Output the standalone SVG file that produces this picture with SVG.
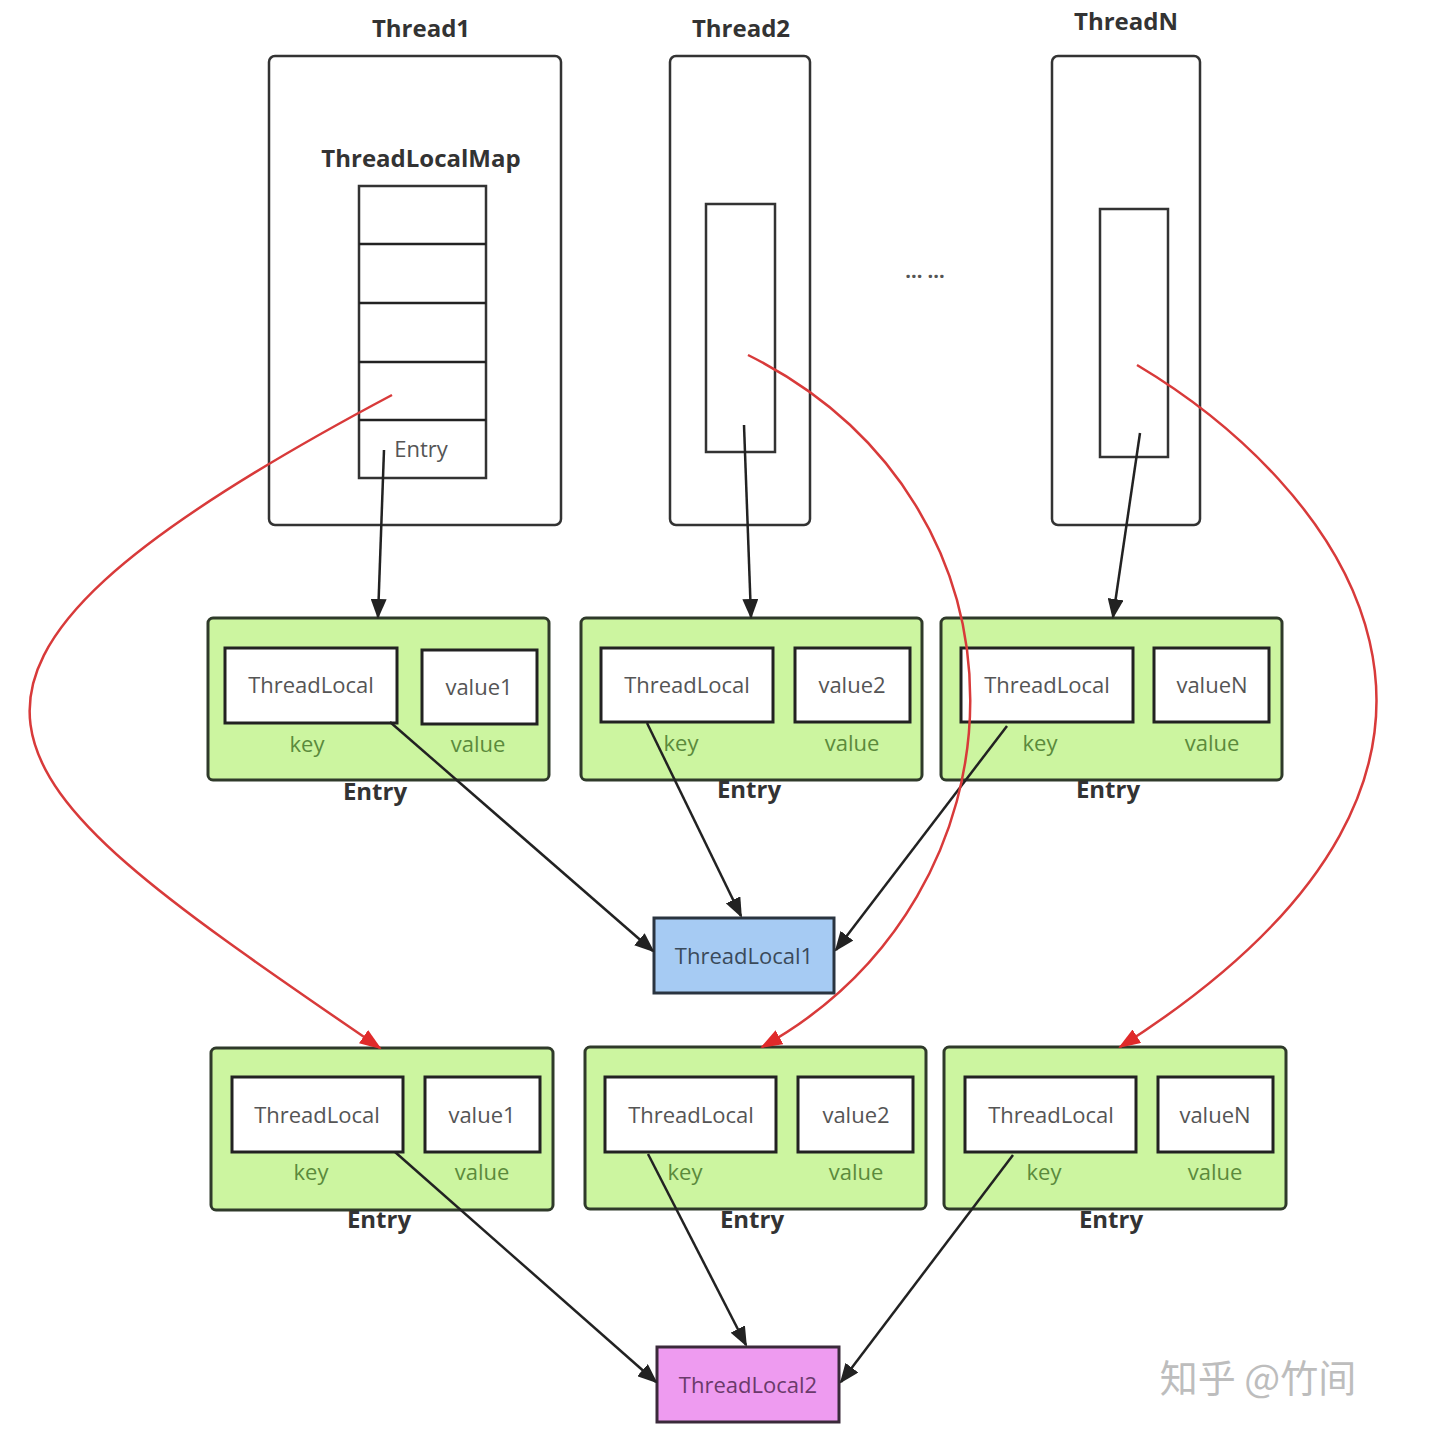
<svg xmlns="http://www.w3.org/2000/svg" width="1456" height="1438" viewBox="0 0 1456 1438">
<style>
text{font-family:"Open Sans","Noto Sans","DejaVu Sans",sans-serif}
.title{font-size:24px;font-weight:bold;fill:#333;text-anchor:middle}
.box{fill:#fff;stroke:#333;stroke-width:2.5}
.entry{fill:#ccf5a0;stroke:#2f3a2a;stroke-width:3}
.inner{fill:#fff;stroke:#222;stroke-width:3}
.t{font-size:22px;fill:#555;text-anchor:middle}
.kv{font-size:22px;fill:#5b8a3c;text-anchor:middle}
.el{font-size:24px;font-weight:bold;fill:#333;text-anchor:middle}
.blk{fill:none;stroke:#222;stroke-width:2.5}
.red{fill:none;stroke:#d83a3a;stroke-width:2.5}
</style>
<defs>
<marker id="ab" markerWidth="20" markerHeight="16" refX="18" refY="8" orient="auto" markerUnits="userSpaceOnUse"><path d="M0,0 L20,8 L0,16 Z" fill="#222"/></marker>
<marker id="ar" markerWidth="22" markerHeight="16" refX="20" refY="8" orient="auto" markerUnits="userSpaceOnUse"><path d="M0,0 L22,8 L0,16 Z" fill="#e02a2a"/></marker>
</defs>
<rect width="1456" height="1438" fill="#fff"/>
<g id="thread1">
<text class="title" x="421" y="37">Thread1</text>
<rect class="box" x="269" y="56" width="292" height="469" rx="6"/>
<text class="title" x="421" y="167">ThreadLocalMap</text>
<rect class="box" x="359" y="186" width="127" height="292"/>
<line class="blk" x1="359" y1="244" x2="486" y2="244"/>
<line class="blk" x1="359" y1="303" x2="486" y2="303"/>
<line class="blk" x1="359" y1="362" x2="486" y2="362"/>
<line class="blk" x1="359" y1="420" x2="486" y2="420"/>
<text class="t" x="421" y="457">Entry</text>
</g>
<g id="thread2">
<text class="title" x="741" y="37">Thread2</text>
<rect class="box" x="670" y="56" width="140" height="469" rx="6"/>
<rect class="box" x="706" y="204" width="69" height="248"/>
</g>
<g id="threadN">
<text class="title" x="1126" y="30">ThreadN</text>
<rect class="box" x="1052" y="56" width="148" height="469" rx="6"/>
<rect class="box" x="1100" y="209" width="68" height="248"/>
</g>
<g id="dots"><text x="925" y="283" style="font-size:20px;font-weight:bold;fill:#555;text-anchor:middle">··· ···</text></g>

<g id="entry1a">
<rect class="entry" x="208" y="618" width="341" height="162" rx="5"/>
<rect class="inner" x="225" y="648" width="172" height="75"/>
<rect class="inner" x="422" y="650" width="115" height="74"/>
<text class="t" x="311" y="693">ThreadLocal</text>
<text class="t" x="479" y="695">value1</text>
<text class="kv" x="307" y="752">key</text>
<text class="kv" x="478" y="752">value</text>
<text class="el" x="375" y="800">Entry</text>
</g>
<g id="entry2a">
<rect class="entry" x="581" y="618" width="341" height="162" rx="5"/>
<rect class="inner" x="601" y="648" width="172" height="74"/>
<rect class="inner" x="795" y="648" width="115" height="74"/>
<text class="t" x="687" y="693">ThreadLocal</text>
<text class="t" x="852" y="693">value2</text>
<text class="kv" x="681" y="751">key</text>
<text class="kv" x="852" y="751">value</text>
<text class="el" x="749" y="798">Entry</text>
</g>
<g id="entry3a">
<rect class="entry" x="941" y="618" width="341" height="162" rx="5"/>
<rect class="inner" x="961" y="648" width="172" height="74"/>
<rect class="inner" x="1154" y="648" width="115" height="74"/>
<text class="t" x="1047" y="693">ThreadLocal</text>
<text class="t" x="1212" y="693">valueN</text>
<text class="kv" x="1040" y="751">key</text>
<text class="kv" x="1212" y="751">value</text>
<text class="el" x="1108" y="798">Entry</text>
</g>

<g id="entry1b">
<rect class="entry" x="211" y="1048" width="342" height="162" rx="5"/>
<rect class="inner" x="232" y="1077" width="171" height="75"/>
<rect class="inner" x="425" y="1077" width="115" height="75"/>
<text class="t" x="317" y="1123">ThreadLocal</text>
<text class="t" x="482" y="1123">value1</text>
<text class="kv" x="311" y="1180">key</text>
<text class="kv" x="482" y="1180">value</text>
<text class="el" x="379" y="1228">Entry</text>
</g>
<g id="entry2b">
<rect class="entry" x="585" y="1047" width="341" height="162" rx="5"/>
<rect class="inner" x="605" y="1077" width="171" height="75"/>
<rect class="inner" x="798" y="1077" width="115" height="75"/>
<text class="t" x="691" y="1123">ThreadLocal</text>
<text class="t" x="856" y="1123">value2</text>
<text class="kv" x="685" y="1180">key</text>
<text class="kv" x="856" y="1180">value</text>
<text class="el" x="752" y="1228">Entry</text>
</g>
<g id="entry3b">
<rect class="entry" x="944" y="1047" width="342" height="162" rx="5"/>
<rect class="inner" x="965" y="1077" width="171" height="75"/>
<rect class="inner" x="1158" y="1077" width="115" height="75"/>
<text class="t" x="1051" y="1123">ThreadLocal</text>
<text class="t" x="1215" y="1123">valueN</text>
<text class="kv" x="1044" y="1180">key</text>
<text class="kv" x="1215" y="1180">value</text>
<text class="el" x="1111" y="1228">Entry</text>
</g>

<g id="threadLocal1">
<rect x="654" y="918" width="180" height="75" fill="#a6cbf3" stroke="#2a3440" stroke-width="3"/>
<text x="744" y="964" style="font-size:22px;fill:#3a4a5a;text-anchor:middle">ThreadLocal1</text>
</g>
<g id="threadLocal2">
<rect x="657" y="1347" width="182" height="75" fill="#ee9bf0" stroke="#3a2a3a" stroke-width="3"/>
<text x="748" y="1393" style="font-size:22px;fill:#6a3a6a;text-anchor:middle">ThreadLocal2</text>
</g>

<g id="connectors">
<line class="blk" x1="384" y1="450" x2="378" y2="617" marker-end="url(#ab)"/>
<line class="blk" x1="744" y1="425" x2="751" y2="617" marker-end="url(#ab)"/>
<line class="blk" x1="1140" y1="433" x2="1113" y2="617" marker-end="url(#ab)"/>
<line class="blk" x1="390" y1="722" x2="653" y2="951" marker-end="url(#ab)"/>
<line class="blk" x1="647" y1="723" x2="741" y2="916" marker-end="url(#ab)"/>
<line class="blk" x1="1007" y1="726" x2="836" y2="950" marker-end="url(#ab)"/>
<line class="blk" x1="395" y1="1152" x2="656" y2="1382" marker-end="url(#ab)"/>
<line class="blk" x1="648" y1="1154" x2="746" y2="1345" marker-end="url(#ab)"/>
<line class="blk" x1="1013" y1="1155" x2="841" y2="1382" marker-end="url(#ab)"/>
<path class="red" d="M392,395 C-164,690 -9,780 380,1048" marker-end="url(#ar)"/>
<path class="red" d="M748,355 C1050,506 1034,896 762,1047" marker-end="url(#ar)"/>
<path class="red" d="M1137,365 C1330,480 1570,760 1120,1047" marker-end="url(#ar)"/>
</g>
<text x="1258" y="1392" style="font-family:'Noto Sans CJK SC',sans-serif;font-size:38px;fill:#bdbdbd;text-anchor:middle">知乎 @竹间</text>
</svg>
